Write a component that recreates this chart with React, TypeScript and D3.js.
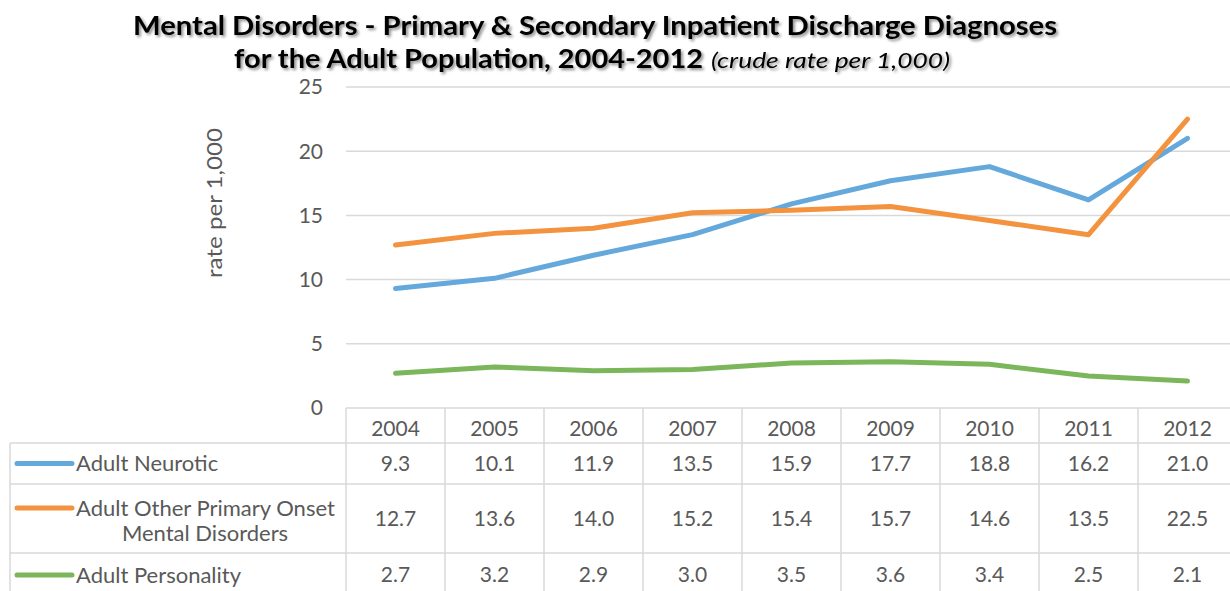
import React from "react";
import * as d3 from "d3";

const years = ["2004", "2005", "2006", "2007", "2008", "2009", "2010", "2011", "2012"];
const neurotic = [9.3, 10.1, 11.9, 13.5, 15.9, 17.7, 18.8, 16.2, 21.0];
const otherPrimary = [12.7, 13.6, 14.0, 15.2, 15.4, 15.7, 14.6, 13.5, 22.5];
const personality = [2.7, 3.2, 2.9, 3.0, 3.5, 3.6, 3.4, 2.5, 2.1];
const yTicks = [0, 5, 10, 15, 20, 25];

const seriesList = [
  { name: ["Adult Neurotic"], values: neurotic, color: "#64A8DC" },
  { name: ["Adult Other Primary Onset", "Mental Disorders"], values: otherPrimary, color: "#F4933F" },
  { name: ["Adult Personality"], values: personality, color: "#7BB65A" },
];

const W = 1230;
const H = 591;
const FONT = "Lato, 'Open Sans', sans-serif";
const TXT = "#595959";
const GRID = "#D9D9D9";

export default function App() {
  const x = d3.scaleBand<string>().domain(years).range([346, 1237]);
  const y = d3.scaleLinear().domain([0, 25]).range([408, 87]);
  const line = d3
    .line<number>()
    .x((_, i) => (x(years[i]) as number) + x.bandwidth() / 2)
    .y((d) => y(d));

  const rowTops = [443, 484, 553];
  const rowBottoms = [484, 553, 600];
  const tableLeft = 10;
  const tableRight = 1237;

  return (
    <svg width={W} height={H} style={{ position: "absolute", left: 0, top: 0, background: "#fff" }}>
      <defs>
        <filter id="shadow" x="-5%" y="-20%" width="110%" height="150%">
          <feGaussianBlur in="SourceAlpha" stdDeviation="1.5" />
          <feOffset dx="1.5" dy="2" result="b" />
          <feComponentTransfer>
            <feFuncA type="linear" slope="0.45" />
          </feComponentTransfer>
          <feMerge>
            <feMergeNode />
            <feMergeNode in="SourceGraphic" />
          </feMerge>
        </filter>
      </defs>
      {/* Title */}
      <g filter="url(#shadow)" fontFamily={FONT} fill="#000">
        <text x={133} y={35} fontSize={26} fontWeight="bold" textLength={924} lengthAdjust="spacingAndGlyphs">
          Mental Disorders - Primary &amp; Secondary Inpatient Discharge Diagnoses
        </text>
        <text x={234} y={68} fontSize={26} fontWeight="bold" textLength={469} lengthAdjust="spacingAndGlyphs">
          for the Adult Population, 2004-2012
        </text>
        <text x={711} y={68} fontSize={22} fontStyle="italic" textLength={239} lengthAdjust="spacingAndGlyphs">
          (crude rate per 1,000)
        </text>
      </g>

      {/* Gridlines */}
      {yTicks.map((t) => (
        <line key={t} x1={346} x2={tableRight} y1={y(t)} y2={y(t)} stroke={GRID} strokeWidth={1.5} />
      ))}
      {yTicks.map((t) => (
        <text key={"l" + t} x={323} y={y(t)} dy="0.35em" textAnchor="end" fontFamily={FONT} fontSize={21} fill={TXT}>
          {t}
        </text>
      ))}
      <text
        transform={`translate(222,203) rotate(-90)`}
        textAnchor="middle"
        fontFamily={FONT}
        fontSize={22}
        fill={TXT}
        textLength={150}
        lengthAdjust="spacingAndGlyphs"
      >
        rate per 1,000
      </text>

      {/* Lines */}
      {seriesList.map((s) => (
        <path
          key={s.name[0]}
          d={line(s.values) as string}
          fill="none"
          stroke={s.color}
          strokeWidth={5}
          strokeLinejoin="round"
          strokeLinecap="round"
        />
      ))}

      {/* Data table */}
      <g stroke={GRID} strokeWidth={1.5}>
        {rowTops.map((t) => (
          <line key={t} x1={tableLeft} x2={tableRight} y1={t} y2={t} />
        ))}
        <line x1={tableLeft} x2={tableLeft} y1={443} y2={600} />
        {years.map((yr) => (
          <line key={yr} x1={x(yr) as number} x2={x(yr) as number} y1={408} y2={600} />
        ))}
      </g>
      {years.map((yr) => (
        <text
          key={"h" + yr}
          x={(x(yr) as number) + x.bandwidth() / 2}
          y={436}
          textAnchor="middle"
          fontFamily={FONT}
          fontSize={21}
          fill={TXT}
        >
          {yr}
        </text>
      ))}
      {seriesList.map((s, si) => {
        const top = rowTops[si];
        const bottom = rowBottoms[si];
        const mid = si === 2 ? 575 : (top + bottom) / 2;
        return (
          <g key={"r" + si}>
            <line x1={17} x2={72} y1={si === 1 ? 508 : mid} y2={si === 1 ? 508 : mid} stroke={s.color} strokeWidth={5} strokeLinecap="round" />
            {s.name.length === 1 ? (
              <text x={76} y={mid} dy="0.35em" fontFamily={FONT} fontSize={22} fill={TXT}>
                {s.name[0]}
              </text>
            ) : (
              <>
                <text x={76} y={508} dy="0.35em" fontFamily={FONT} fontSize={22} fill={TXT}>
                  {s.name[0]}
                </text>
                <text x={205} y={533} dy="0.35em" textAnchor="middle" fontFamily={FONT} fontSize={22} fill={TXT}>
                  {s.name[1]}
                </text>
              </>
            )}
            {s.values.map((v, i) => (
              <text
                key={i}
                x={(x(years[i]) as number) + x.bandwidth() / 2}
                y={mid}
                dy="0.35em"
                textAnchor="middle"
                fontFamily={FONT}
                fontSize={21}
                fill={TXT}
              >
                {v.toFixed(1)}
              </text>
            ))}
          </g>
        );
      })}
    </svg>
  );
}
